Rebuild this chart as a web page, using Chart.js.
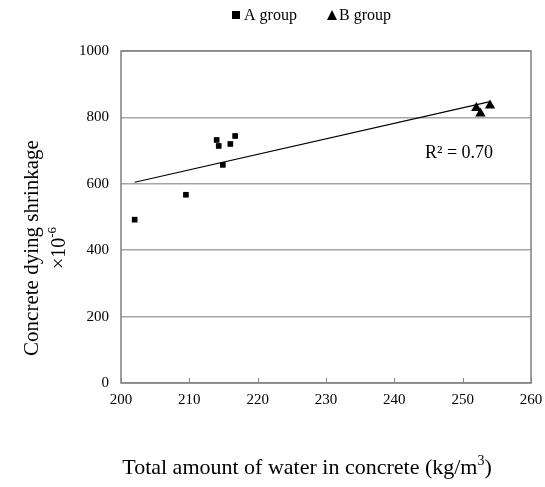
<!DOCTYPE html>
<html>
<head>
<meta charset="utf-8">
<script src="https://cdn.jsdelivr.net/npm/chart.js@4.4.1/dist/chart.umd.min.js"></script>
<style>
  html, body { margin: 0; padding: 0; background: #fff; }
  #wrap { width: 545px; height: 487px; }
</style>
</head>
<body>
<div id="wrap"><canvas id="chart" width="545" height="487"></canvas></div>
<script>
// data
const groupAWater = [202, 209.5, 214.0, 214.3, 214.9, 216.0, 216.7];
const groupAShrink = [492, 567, 732, 714, 657, 720, 744];
const groupBWater = [252.0, 252.6, 254.0];
const groupBShrink = [828, 812, 836];
const xTicks = [200, 210, 220, 230, 240, 250, 260];
const yTicks = [0, 200, 400, 600, 800, 1000];

const serif = '"Liberation Serif", "Times New Roman", serif';

function toPoints(xs, ys) {
    return xs.map((x, i) => ({ x: x, y: ys[i] }));
}

// linear trend over both groups
const allX = groupAWater.concat(groupBWater);
const allY = groupAShrink.concat(groupBShrink);
const n = allX.length;
const mx = allX.reduce((a, b) => a + b, 0) / n;
const my = allY.reduce((a, b) => a + b, 0) / n;
let sxy = 0, sxx = 0, syy = 0;
for (let i = 0; i < n; i++) {
    sxy += (allX[i] - mx) * (allY[i] - my);
    sxx += (allX[i] - mx) ** 2;
    syy += (allY[i] - my) ** 2;
}
const slope = sxy / sxx;
const icpt = my - slope * mx;
const r2 = (sxy * sxy) / (sxx * syy);
const xMin = Math.min(...allX), xMax = Math.max(...allX);
const trend = [{ x: xMin, y: icpt + slope * xMin }, { x: xMax, y: icpt + slope * xMax }];

// draws the box, inner tick marks, legend, titles
const decor = {
    id: 'decor',
    afterDraw(chart) {
        const ctx = chart.ctx;
        const a = chart.chartArea;
        const xs = chart.scales.x;
        ctx.save();

        // x tick marks inside the box
        ctx.strokeStyle = '#868686';
        ctx.lineWidth = 1;
        xTicks.forEach(t => {
            const px = Math.round(xs.getPixelForValue(t)) + 0.5;
            ctx.beginPath();
            ctx.moveTo(px, a.bottom);
            ctx.lineTo(px, a.bottom - 5);
            ctx.stroke();
        });

        // box
        ctx.lineWidth = 1.5;
        ctx.strokeStyle = '#808080';
        ctx.strokeRect(a.left, a.top, a.right - a.left, a.bottom - a.top);

        // legend
        ctx.fillStyle = '#000';
        ctx.font = '16px ' + serif;
        ctx.textBaseline = 'middle';
        ctx.fillRect(232, 11, 8, 8);
        ctx.fillText('A group', 244, 15.5);
        ctx.beginPath();
        ctx.moveTo(332, 10);
        ctx.lineTo(337, 20);
        ctx.lineTo(327, 20);
        ctx.closePath();
        ctx.fill();
        ctx.fillText('B group', 339, 15.5);

        // R² label
        ctx.font = '18px ' + serif;
        ctx.textAlign = 'left';
        ctx.fillText('R\u00B2 = ' + r2.toFixed(2), 425, 153);

        // x title with superscript
        ctx.font = '22px ' + serif;
        ctx.textBaseline = 'alphabetic';
        const t1 = 'Total amount of water in concrete (kg/m';
        const w1 = ctx.measureText(t1).width;
        ctx.font = '14px ' + serif;
        const w2 = ctx.measureText('3').width;
        ctx.font = '22px ' + serif;
        const w3 = ctx.measureText(')').width;
        let sx = 307 - (w1 + w2 + w3) / 2;
        ctx.fillText(t1, sx, 474);
        ctx.font = '14px ' + serif;
        ctx.fillText('3', sx + w1, 465);
        ctx.font = '22px ' + serif;
        ctx.fillText(')', sx + w1 + w2, 474);

        // y title, rotated, two lines
        ctx.save();
        ctx.translate(31, 248);
        ctx.rotate(-Math.PI / 2);
        ctx.textAlign = 'center';
        ctx.font = '21px ' + serif;
        ctx.fillText('Concrete dying shrinkage', 0, 7);
        ctx.restore();

        ctx.save();
        ctx.translate(58, 248);
        ctx.rotate(-Math.PI / 2);
        ctx.textAlign = 'left';
        ctx.font = '20px ' + serif;
        const b1 = '\u00D710';
        const bw = ctx.measureText(b1).width;
        ctx.font = '13px ' + serif;
        const bs = ctx.measureText('-6').width;
        const bx = -(bw + bs) / 2;
        ctx.font = '20px ' + serif;
        ctx.fillText(b1, bx, 7);
        ctx.font = '13px ' + serif;
        ctx.fillText('-6', bx + bw, -2);
        ctx.restore();

        ctx.restore();
    }
};

new Chart(document.getElementById('chart'), {
    type: 'scatter',
    data: {
        datasets: [
            {
                label: 'A group',
                data: toPoints(groupAWater, groupAShrink),
                pointStyle: 'rect',
                pointRadius: 4,
                backgroundColor: '#000',
                borderColor: '#000',
                borderWidth: 0
            },
            {
                label: 'B group',
                data: toPoints(groupBWater, groupBShrink),
                pointStyle: 'triangle',
                pointRadius: 6,
                backgroundColor: '#000',
                borderColor: '#000',
                borderWidth: 0
            },
            {
                label: 'trend',
                type: 'line',
                data: trend,
                borderColor: '#000',
                borderWidth: 1.2,
                pointRadius: 0,
                fill: false
            }
        ]
    },
    options: {
        responsive: false,
        animation: false,
        layout: { padding: { top: 51, right: 14, left: 0, bottom: 0 } },
        plugins: {
            legend: { display: false },
            tooltip: { enabled: false }
        },
        scales: {
            x: {
                type: 'linear',
                min: 200,
                max: 260,
                afterBuildTicks: s => { s.ticks = xTicks.map(v => ({ value: v })); },
                afterFit: s => { s.height = 104; s.paddingLeft = 0; s.paddingRight = 0; },
                grid: { display: false, drawTicks: false },
                border: { display: false },
                ticks: {
                    color: '#000',
                    padding: 8,
                    font: { family: serif, size: 15 },
                    maxRotation: 0
                }
            },
            y: {
                type: 'linear',
                min: 0,
                max: 1000,
                afterBuildTicks: s => { s.ticks = yTicks.map(v => ({ value: v })); },
                afterFit: s => { s.width = 121; },
                grid: { color: '#a6a6a6', lineWidth: 1.5, drawTicks: false },
                border: { display: false },
                ticks: {
                    color: '#000',
                    padding: 12,
                    font: { family: serif, size: 15 },
                    callback: v => String(v)
                }
            }
        }
    },
    plugins: [decor]
});
</script>
</body>
</html>
